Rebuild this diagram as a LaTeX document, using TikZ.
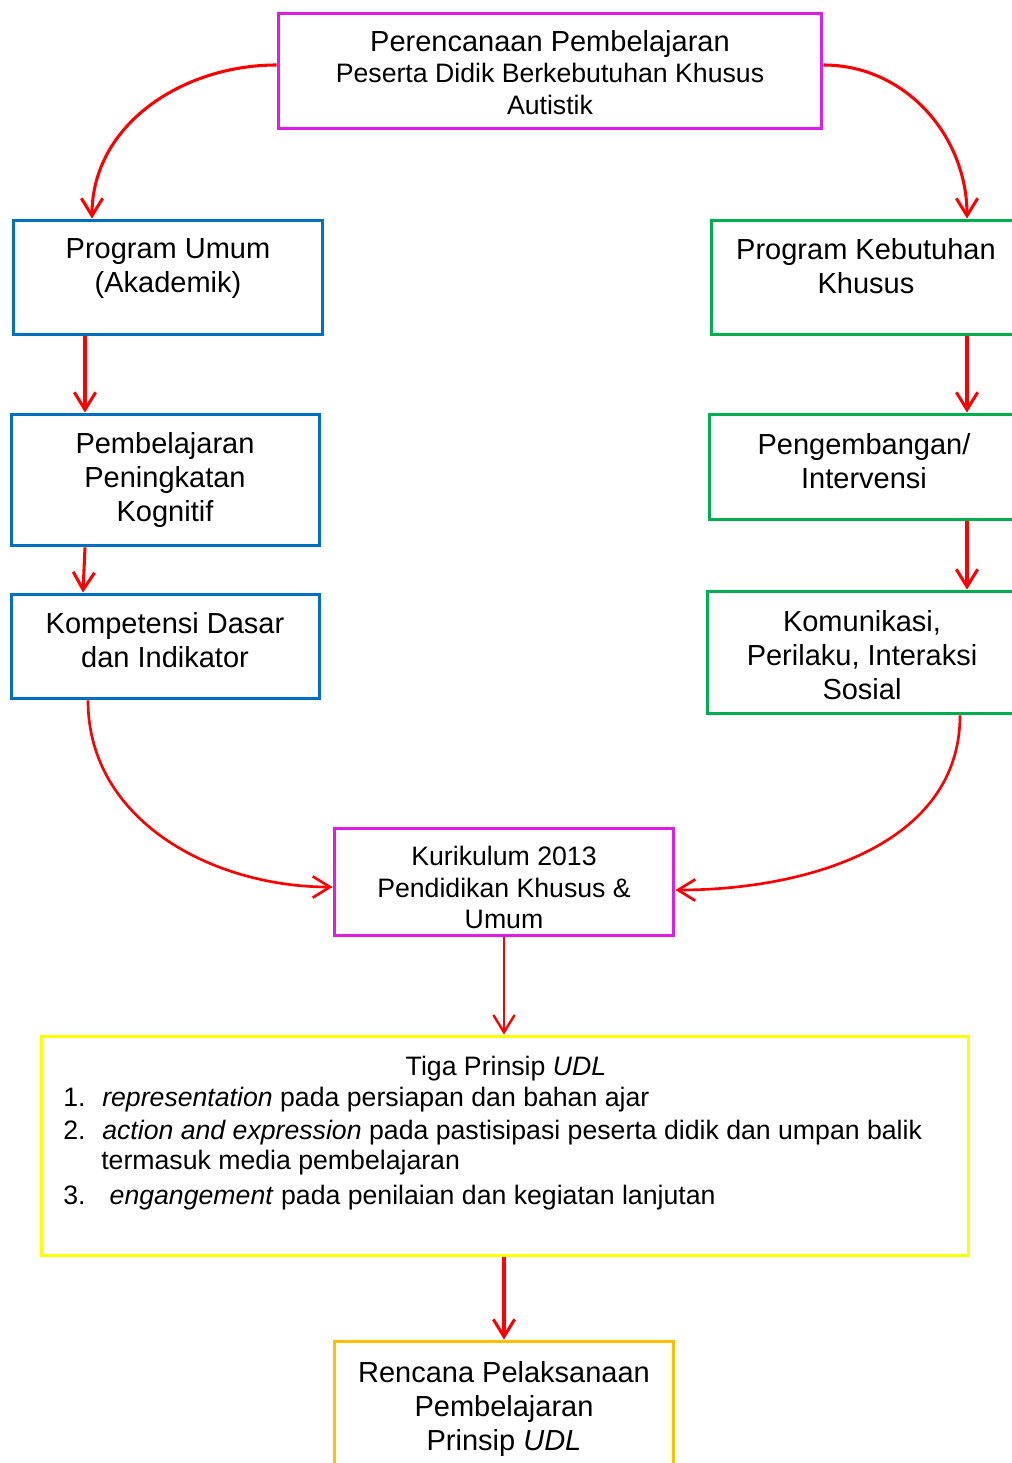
\documentclass[tikz,border=0pt]{standalone}
\usepackage{fontspec}
\setmainfont{Liberation Sans}
\usetikzlibrary{arrows.meta}

\definecolor{boxmag}{RGB}{224,28,236}
\definecolor{boxblue}{RGB}{0,112,192}
\definecolor{boxgreen}{RGB}{0,176,80}
\definecolor{boxyellow}{RGB}{255,255,0}
\definecolor{boxorange}{RGB}{255,192,0}

\tikzset{
  box/.style={draw, rectangle, line width=2.9pt, inner sep=0pt},
  bigtxt/.style={font=\fontsize{21.75}{25.5}\selectfont, align=center, inner sep=0pt, anchor=north},
  smalltxt/.style={font=\fontsize{20}{23.6}\selectfont, align=center, inner sep=0pt, anchor=north},
  arr/.style={draw=red, line width=2.3pt, -{Straight Barb[length=13pt,width=16pt]}},
}

\begin{document}
\begin{tikzpicture}[x=0.75pt,y=0.75pt,yscale=-1,xscale=1]
\useasboundingbox (0,0) rectangle (1012,1463);
\clip (0,0) rectangle (1012,1463);

%Shape: Rectangle
\node[box, draw=boxmag, minimum width=407.25pt, minimum height=86.25pt] (plan) at (550,71) {};
%Shape: Rectangle
\node[box, draw=boxblue, minimum width=231.75pt, minimum height=85.5pt] (umum) at (168,277.5) {};
%Shape: Rectangle
\node[box, draw=boxgreen, minimum width=231.75pt, minimum height=85.5pt] (khusus) at (866,277.5) {};
%Shape: Rectangle
\node[box, draw=boxblue, minimum width=231pt, minimum height=98.25pt] (kognitif) at (165.5,480) {};
%Shape: Rectangle
\node[box, draw=boxgreen, minimum width=231.75pt, minimum height=78.75pt] (intervensi) at (864,467) {};
%Shape: Rectangle
\node[box, draw=boxblue, minimum width=231pt, minimum height=78pt] (kompetensi) at (165.5,646.5) {};
%Shape: Rectangle
\node[box, draw=boxgreen, minimum width=231.75pt, minimum height=91.5pt] (komunikasi) at (862,652.5) {};
%Shape: Rectangle
\node[box, draw=boxmag, minimum width=254.25pt, minimum height=80.25pt] (kurikulum) at (504,882) {};
%Shape: Rectangle
\node[box, draw=boxyellow, minimum width=695.25pt, minimum height=164.25pt] (udl) at (505,1146) {};
%Shape: Rectangle
\node[box, draw=boxorange, minimum width=254.25pt, minimum height=102.75pt] (rpp) at (504,1410) {};

% Text Node
\node[smalltxt] (plantxt) at (550,30) {{\fontsize{21.75}{23.6}\selectfont Perencanaan Pembelajaran}\\Peserta Didik Berkebutuhan Khusus\\Autistik};
% Text Node
\node[bigtxt] (umumtxt) at (168,238) {Program Umum\\(Akademik)};
% Text Node
\node[bigtxt] (khusustxt) at (866,238) {Program Kebutuhan\\Khusus};
% Text Node
\node[bigtxt] (kognitiftxt) at (165,432) {Pembelajaran\\Peningkatan\\Kognitif};
% Text Node
\node[bigtxt] (intervensitxt) at (864,433) {Pengembangan/\\Intervensi};
% Text Node
\node[bigtxt] (kompetensitxt) at (165,612) {Kompetensi Dasar\\dan Indikator};
% Text Node
\node[bigtxt] (komunikasitxt) at (862,610) {Komunikasi,\\Perilaku, Interaksi\\Sosial};
% Text Node
\node[smalltxt] (kurikulumtxt) at (504,846) {Kurikulum 2013\\Pendidikan Khusus \&\\Umum};
% Text Node
\node[smalltxt] (udltxt) at (506,1056) {Tiga Prinsip \textit{UDL}};
% Text Node
\node[smalltxt, align=left, anchor=north west, font=\fontsize{20}{24.4}\selectfont] (udllist) at (63,1087)
  {\makebox[29.25pt][l]{1.}\textit{representation} pada persiapan dan bahan ajar\\
   \makebox[29.25pt][l]{2.}\textit{action and expression} pada pastisipasi peserta didik dan umpan balik\\[-1.5pt]
   \hspace*{28.5pt}termasuk media pembelajaran\\[2pt]
   \makebox[29.25pt][l]{3.}~\textit{engangement} pada penilaian dan kegiatan lanjutan};
% Text Node
\node[bigtxt] (rpptxt) at (504,1361) {Rencana Pelaksanaan\\Pembelajaran\\Prinsip \textit{UDL}};

% guide coordinates for the arrows
\coordinate (topl) at (92,0);
\coordinate (lline) at (85,0);
\coordinate (lline2) at (83,0);
\coordinate (botl) at (88,0);
\coordinate (rline) at (967,0);
\coordinate (botr) at (960,0);

%Curve Lines
\draw[arr] ([yshift=-4.5pt]plan.west) to[out=180,in=-90] (umum.north -| topl);
\draw[arr] ([yshift=-4.5pt]plan.east) to[out=0,in=-90] (khusus.north -| rline);
\draw[arr, line width=2pt] (kompetensi.south -| botl) to[out=90,in=180] ([yshift=3.75pt]kurikulum.west);
\draw[arr, line width=2pt] (komunikasi.south -| botr) to[out=90,in=0] ([yshift=6pt]kurikulum.east);

%Straight Lines
\draw[arr] (umum.south -| lline) -- (kognitif.north -| lline);
\draw[arr] (khusus.south -| rline) -- (intervensi.north -| rline);
\draw[arr] (kognitif.south -| lline) -- (kompetensi.north -| lline2);
\draw[arr] (intervensi.south -| rline) -- (komunikasi.north -| rline);
\draw[arr, line width=1.8pt] (kurikulum.south) -- (kurikulum.south |- udl.north);
\draw[arr] (rpp.north |- udl.south) -- (rpp.north);

\end{tikzpicture}
\end{document}
